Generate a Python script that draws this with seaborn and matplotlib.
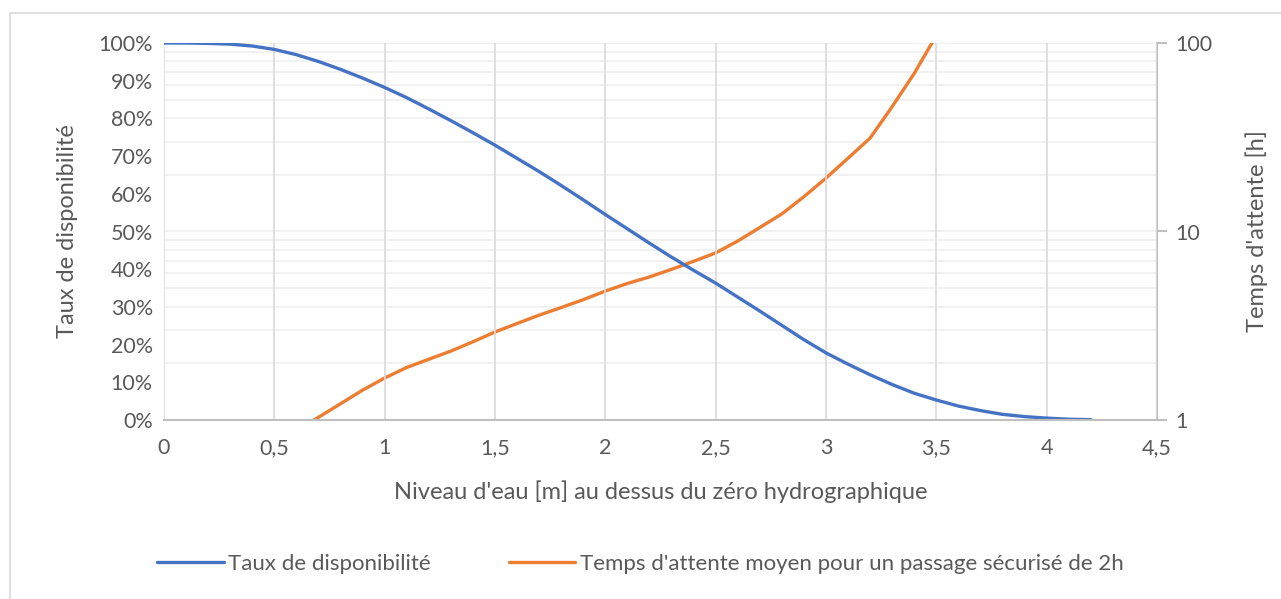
import numpy as np
import pandas as pd
import matplotlib
matplotlib.use("Agg")
import matplotlib.pyplot as plt
from matplotlib.ticker import FuncFormatter, FixedLocator, LogLocator, NullFormatter
from matplotlib.patches import Rectangle
import seaborn as sns

# availability (%) vs water level [m]
niveau_dispo = [0, 0.1, 0.2, 0.3, 0.4, 0.5, 0.6, 0.7, 0.8, 0.9, 1.0, 1.1, 1.2, 1.3, 1.4,
                1.5, 1.6, 1.7, 1.8, 1.9, 2.0, 2.1, 2.2, 2.3, 2.4, 2.5, 2.6, 2.7, 2.8, 2.9,
                3.0, 3.1, 3.2, 3.3, 3.4, 3.5, 3.6, 3.7, 3.8, 3.9, 4.0, 4.1, 4.2]
taux_dispo = [100, 100, 99.9, 99.7, 99.2, 98.3, 96.9, 95.1, 93.0, 90.7, 88.2, 85.5, 82.5,
              79.4, 76.2, 72.9, 69.4, 65.9, 62.2, 58.4, 54.5, 50.7, 46.9, 43.2, 39.7,
              36.3, 32.6, 28.9, 25.1, 21.3, 17.8, 14.8, 12.0, 9.4, 7.1, 5.3, 3.7, 2.5,
              1.5, 0.9, 0.5, 0.2, 0.1]

# mean waiting time [h] vs water level [m]
niveau_attente = [0.68, 0.8, 0.9, 1.0, 1.1, 1.2, 1.3, 1.4, 1.5, 1.6, 1.7, 1.8, 1.9, 2.0,
                  2.1, 2.2, 2.3, 2.4, 2.5, 2.6, 2.7, 2.8, 2.9, 3.0, 3.1, 3.2, 3.3, 3.4,
                  3.48, 3.55]
temps_attente = [1.0, 1.22, 1.44, 1.67, 1.9, 2.1, 2.32, 2.6, 2.93, 3.25, 3.6, 3.95, 4.35,
                 4.83, 5.3, 5.74, 6.3, 6.95, 7.7, 8.9, 10.5, 12.4, 15.3, 19.2, 24.5, 31.3,
                 46, 69, 100, 135]

x_ticks = [0, 0.5, 1, 1.5, 2, 2.5, 3, 3.5, 4, 4.5]

df_dispo = pd.DataFrame({"niveau": niveau_dispo, "taux": np.array(taux_dispo) / 100})
df_att = pd.DataFrame({"niveau": niveau_attente, "temps": temps_attente})

sns.set_style("white")
plt.rcParams["font.family"] = ["Lato", "DejaVu Sans"]

gray_txt = "#595959"
blue = "#4472C4"
orange = "#ED7D31"

fig = plt.figure(figsize=(12.81, 5.99), dpi=100)
fig.patches.append(Rectangle((10 / 1281, -0.05), 1.1, 0.05 + (599 - 13) / 599,
                             transform=fig.transFigure, fill=False,
                             edgecolor="#d9d9d9", linewidth=1.2))

ax = fig.add_axes([164 / 1281, 1 - 420 / 599, (1157 - 164) / 1281, (420 - 43) / 599])
ax2 = ax.twinx()

sns.lineplot(data=df_dispo, x="niveau", y="taux", ax=ax, color=blue, linewidth=2.4,
             label="Taux de disponibilité", legend=False)
sns.lineplot(data=df_att, x="niveau", y="temps", ax=ax2, color=orange, linewidth=2.4,
             label="Temps d'attente moyen pour un passage sécurisé de 2h", legend=False)

ax.set_xlim(0, 4.5)
ax.set_ylim(0, 1)
ax2.set_yscale("log")
ax2.set_ylim(1, 100)

ax.xaxis.set_major_locator(FixedLocator(x_ticks))
ax.xaxis.set_major_formatter(FuncFormatter(lambda v, p: f"{v:g}".replace(".", ",")))
ax.set_yticks(np.arange(0, 1.01, 0.1))
ax.yaxis.set_major_formatter(FuncFormatter(lambda v, p: f"{v * 100:.0f}%"))

ax2.yaxis.set_major_locator(FixedLocator([1, 10, 100]))
ax2.yaxis.set_major_formatter(FuncFormatter(lambda v, p: f"{v:g}"))
ax2.yaxis.set_minor_locator(LogLocator(base=10, subs=np.arange(2, 10)))
ax2.yaxis.set_minor_formatter(NullFormatter())

# horizontal grid from the log axis, vertical grid from the x axis
ax2.grid(True, which="both", axis="y", color="#efefef", linewidth=1.2)
ax.grid(True, axis="x", color="#d9d9d9", linewidth=1.2)
ax.grid(False, axis="y")
ax.set_zorder(ax2.get_zorder() + 1)
ax.patch.set_visible(False)

for a in (ax, ax2):
    for s in ("top", "left", "right", "bottom"):
        a.spines[s].set_visible(False)
ax.spines["bottom"].set_visible(True)
ax.spines["bottom"].set_color("#bfbfbf")
ax.spines["bottom"].set_linewidth(1.5)
ax2.spines["right"].set_visible(True)
ax2.spines["right"].set_color("#bfbfbf")
ax2.spines["right"].set_linewidth(1.5)

ax.tick_params(axis="x", length=0, pad=13, labelsize=15.5, labelcolor=gray_txt)
ax.tick_params(axis="y", length=0, pad=8, labelsize=15.5, labelcolor=gray_txt)
ax2.tick_params(axis="y", which="major", length=7, width=1.5, color="#bfbfbf",
                direction="out", pad=6, labelsize=15.5, labelcolor=gray_txt)
ax2.tick_params(axis="y", which="minor", length=0)

ax.set_xlabel("Niveau d'eau [m] au dessus du zéro hydrographique", fontsize=17,
              color=gray_txt, labelpad=16)
ax.set_ylabel("Taux de disponibilité", fontsize=17, color=gray_txt, labelpad=15)
ax2.set_ylabel("Temps d'attente [h]", fontsize=17, color=gray_txt, labelpad=24)

h1, l1 = ax.get_legend_handles_labels()
h2, l2 = ax2.get_legend_handles_labels()
fig.legend(h1 + h2, l1 + l2, loc="center", bbox_to_anchor=(0.5, 1 - 564 / 599), ncol=2,
           frameon=False, fontsize=16, labelcolor=gray_txt, handlelength=3.0,
           handletextpad=0.2, columnspacing=3.5)

fig.savefig("out.png", dpi=100)
